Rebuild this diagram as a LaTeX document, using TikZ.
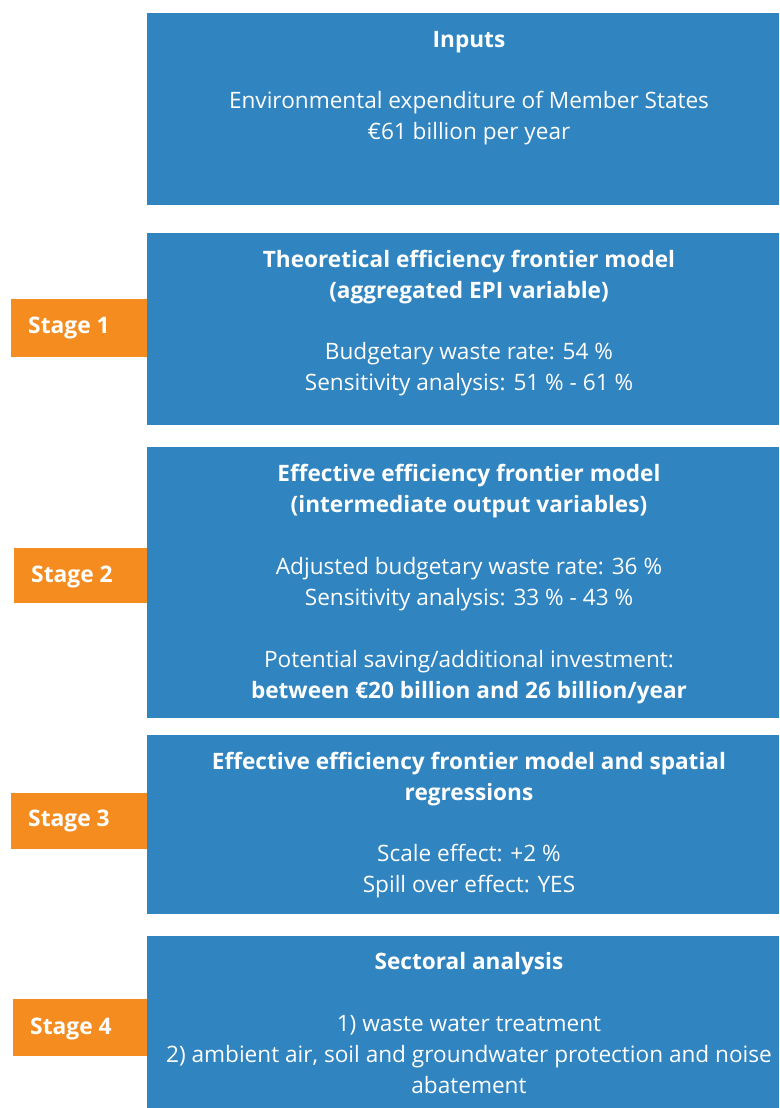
\documentclass[tikz,border=0pt]{standalone}
\usepackage{fontspec}
\setmainfont{Open Sans}
\begin{document}
\begin{tikzpicture}[x=1pt,y=-1pt,
  panel/.style={fill=panelblue,draw=none,anchor=north west,inner sep=0pt},
  stagetab/.style={fill=stageorange,draw=none,anchor=north west,inner sep=0pt},
  stagelabel/.style={text=white,anchor=west,font=\fontsize{22.8}{26}\selectfont\bfseries,inner sep=0pt},
  body/.style={text=white,align=center,font=\fontsize{22.6}{31}\selectfont,inner sep=0pt},
  heading/.style={text=white,align=center,font=\fontsize{22.6}{31}\selectfont\bfseries,inner sep=0pt}]
\definecolor{panelblue}{HTML}{3084C0}
\definecolor{stageorange}{HTML}{F58C1F}
\useasboundingbox (0,0) rectangle (779,1108);
\fill[white] (0,0) rectangle (779,1108);

% blue panels
\node[panel,minimum width=632pt,minimum height=192pt] (p0) at (147,13) {};
\node[panel,minimum width=632pt,minimum height=192pt] (p1) at (147,233) {};
\node[panel,minimum width=632pt,minimum height=271pt] (p2) at (147,447) {};
\node[panel,minimum width=632pt,minimum height=179pt] (p3) at (147,735) {};
\node[panel,minimum width=632pt,minimum height=172pt] (p4) at (147,936) {};

% orange stage tabs
\node[stagetab,minimum width=136pt,minimum height=58pt] (s1) at (11,299) {};
\node[stagetab,minimum width=133pt,minimum height=55pt] (s2) at (14,548) {};
\node[stagetab,minimum width=136pt,minimum height=56pt] (s3) at (11,793) {};
\node[stagetab,minimum width=134pt,minimum height=57pt] (s4) at (13,999) {};
\node[stagelabel] (l1) at (28,328) {Stage 1};
\node[stagelabel] (l2) at (31,577) {Stage 2};
\node[stagelabel] (l3) at (28,821) {Stage 3};
\node[stagelabel] (l4) at (30,1029) {Stage 4};

% panel texts
\node[heading] (h0) at (469,42) {Inputs};
\node[body] (b0) at (469,118) {Environmental expenditure of Member States\\ €61 billion per year};

\node[heading] (h1) at (469,277) {Theoretical efficiency frontier model\\ (aggregated EPI variable)};
\node[body] (b1) at (469,369) {Budgetary waste rate: 54 \%\\ Sensitivity analysis: 51 \% - 61 \%};

\node[heading] (h2) at (469,491) {Effective efficiency frontier model\\ (intermediate output variables)};
\node[body] (b2) at (469,584) {Adjusted budgetary waste rate: 36 \%\\ Sensitivity analysis: 33 \% - 43 \%};
\node[body] (c2) at (469,677) {Potential saving/additional investment:\\ \bfseries between €20 billion and 26 billion/year};

\node[heading] (h3) at (469,779) {Effective efficiency frontier model and spatial\\ regressions};
\node[body] (b3) at (469,871) {Scale effect: +2 \%\\ Spill over effect: YES};

\node[heading] (h4) at (469,964) {Sectoral analysis};
\node[body] (b4) at (469,1055) {1) waste water treatment\\ 2) ambient air, soil and groundwater protection and noise\\ abatement};
\end{tikzpicture}
\end{document}
